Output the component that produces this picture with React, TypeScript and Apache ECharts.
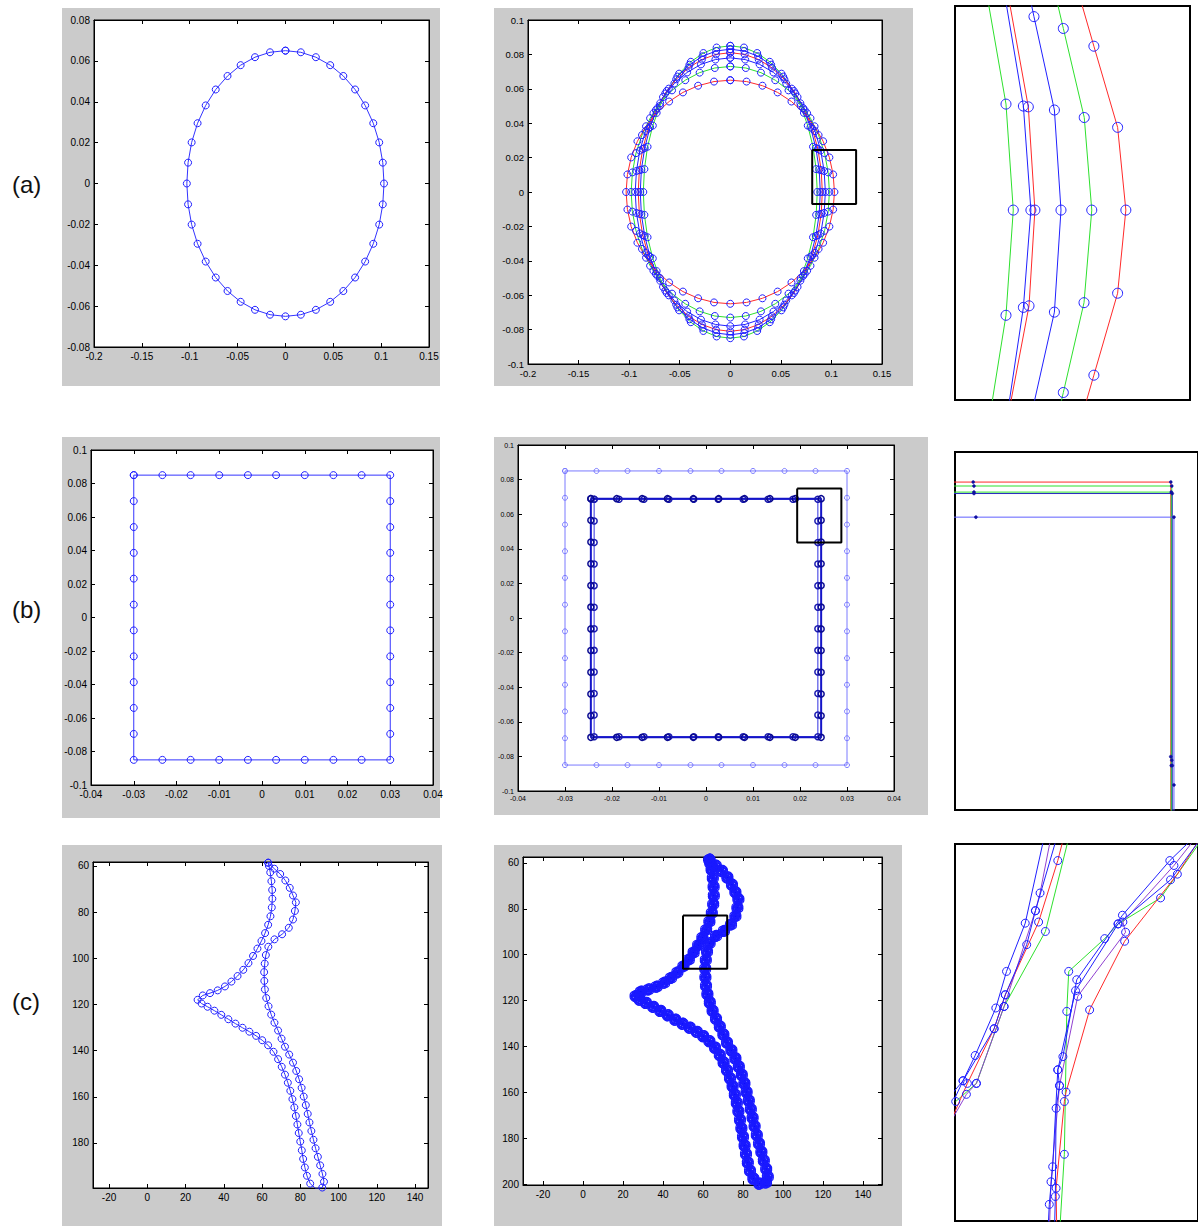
import React, { useEffect, useRef } from "react";
import * as echarts from "echarts";

// ---------- (a) ellipses: 40 points each ----------
const E1_X = [0,.0161,.0318,.0468,.0605,.0728,.0833,.0918,.098,.1017,.103,.1017,.098,.0918,.0833,.0728,.0605,.0468,.0318,.0161,0,-.0161,-.0318,-.0468,-.0605,-.0728,-.0833,-.0918,-.098,-.1017,-.103,-.1017,-.098,-.0918,-.0833,-.0728,-.0605,-.0468,-.0318,-.0161];
const E1_Y = [.065,.0642,.0618,.0579,.0526,.046,.0382,.0295,.0201,.0102,0,-.0102,-.0201,-.0295,-.0382,-.046,-.0526,-.0579,-.0618,-.0642,-.065,-.0642,-.0618,-.0579,-.0526,-.046,-.0382,-.0295,-.0201,-.0102,0,.0102,.0201,.0295,.0382,.046,.0526,.0579,.0618,.0642];
const E2_X = [0,.0153,.0303,.0445,.0576,.0693,.0793,.0873,.0932,.0968,.098,.0968,.0932,.0873,.0793,.0693,.0576,.0445,.0303,.0153,0,-.0153,-.0303,-.0445,-.0576,-.0693,-.0793,-.0873,-.0932,-.0968,-.098,-.0968,-.0932,-.0873,-.0793,-.0693,-.0576,-.0445,-.0303,-.0153];
const E2_Y = [.073,.0721,.0694,.065,.0591,.0516,.0429,.0331,.0226,.0114,0,-.0114,-.0226,-.0331,-.0429,-.0516,-.0591,-.065,-.0694,-.0721,-.073,-.0721,-.0694,-.065,-.0591,-.0516,-.0429,-.0331,-.0226,-.0114,0,.0114,.0226,.0331,.0429,.0516,.0591,.065,.0694,.0721];
const E3_X = [0,.0147,.029,.0427,.0553,.0665,.076,.0838,.0894,.0928,.094,.0928,.0894,.0838,.076,.0665,.0553,.0427,.029,.0147,0,-.0147,-.029,-.0427,-.0553,-.0665,-.076,-.0838,-.0894,-.0928,-.094,-.0928,-.0894,-.0838,-.076,-.0665,-.0553,-.0427,-.029,-.0147];
const E3_Y = [.078,.077,.0742,.0695,.0631,.0552,.0458,.0354,.0241,.0122,0,-.0122,-.0241,-.0354,-.0458,-.0552,-.0631,-.0695,-.0742,-.077,-.078,-.077,-.0742,-.0695,-.0631,-.0552,-.0458,-.0354,-.0241,-.0122,0,.0122,.0241,.0354,.0458,.0552,.0631,.0695,.0742,.077];
const E4_X = [0,.0142,.0281,.0413,.0535,.0643,.0736,.0811,.0866,.0899,.091,.0899,.0866,.0811,.0736,.0643,.0535,.0413,.0281,.0142,0,-.0142,-.0281,-.0413,-.0535,-.0643,-.0736,-.0811,-.0866,-.0899,-.091,-.0899,-.0866,-.0811,-.0736,-.0643,-.0535,-.0413,-.0281,-.0142];
const E4_Y = [.081,.08,.077,.0722,.0655,.0573,.0476,.0368,.025,.0127,0,-.0127,-.025,-.0368,-.0476,-.0573,-.0655,-.0722,-.077,-.08,-.081,-.08,-.077,-.0722,-.0655,-.0573,-.0476,-.0368,-.025,-.0127,0,.0127,.025,.0368,.0476,.0573,.0655,.0722,.077,.08];
const E5_X = [0,.0139,.0275,.0404,.0523,.0629,.072,.0793,.0846,.0879,.089,.0879,.0846,.0793,.072,.0629,.0523,.0404,.0275,.0139,0,-.0139,-.0275,-.0404,-.0523,-.0629,-.072,-.0793,-.0846,-.0879,-.089,-.0879,-.0846,-.0793,-.072,-.0629,-.0523,-.0404,-.0275,-.0139];
const E5_Y = [.083,.082,.0789,.074,.0671,.0587,.0488,.0377,.0256,.013,0,-.013,-.0256,-.0377,-.0488,-.0587,-.0671,-.074,-.0789,-.082,-.083,-.082,-.0789,-.074,-.0671,-.0587,-.0488,-.0377,-.0256,-.013,0,.013,.0256,.0377,.0488,.0587,.0671,.074,.0789,.082];
const E6_X = [0,.0135,.0266,.039,.0506,.0608,.0696,.0766,.0818,.0849,.086,.0849,.0818,.0766,.0696,.0608,.0506,.039,.0266,.0135,0,-.0135,-.0266,-.039,-.0506,-.0608,-.0696,-.0766,-.0818,-.0849,-.086,-.0849,-.0818,-.0766,-.0696,-.0608,-.0506,-.039,-.0266,-.0135];
const E6_Y = [.085,.084,.0808,.0757,.0688,.0601,.05,.0386,.0263,.0133,0,-.0133,-.0263,-.0386,-.05,-.0601,-.0688,-.0757,-.0808,-.084,-.085,-.084,-.0808,-.0757,-.0688,-.0601,-.05,-.0386,-.0263,-.0133,0,.0133,.0263,.0386,.05,.0601,.0688,.0757,.0808,.084];
const A2_BOX = [[0.081, 0.0244], [0.1244, 0.0244], [0.1244, -0.007], [0.081, -0.007], [0.081, 0.0244]];

// ---------- (b) rectangles: top-row x values and side y values ----------
const R0_TOPX = [-.03,-.0233,-.0167,-.01,-.0033,.0033,.01,.0167,.0233,.03];
const R0_SIDEY = [.085,.0695,.054,.0386,.0232,.0077,-.0077,-.0232,-.0386,-.054,-.0695,-.085];
const RA_TOPX = [-.0245,-.019,-.0136,-.0082,-.0027,.0027,.0082,.0136,.019,.0245];
const RA_SIDEY = [.069,.0565,.0439,.0314,.0188,.0063,-.0063,-.0188,-.0314,-.0439,-.0565,-.069];
const RB_TOPX = [-.0238,-.0185,-.0132,-.0079,-.0026,.0026,.0079,.0132,.0185,.0238];
const RB_SIDEY = [.0686,.0561,.0436,.0312,.0187,.0062,-.0062,-.0187,-.0312,-.0436,-.0561,-.0686];
const B2_BOX = [[0.0194, 0.0748], [0.0288, 0.0748], [0.0288, 0.0436], [0.0194, 0.0436], [0.0194, 0.0748]];

// ---------- (c) contour ----------
const C_X = [63.2,66.4,69.5,72.2,74.5,76.2,77.7,77.2,76.2,74,70.5,66.5,
  63.3,62,61.4,61.1,61.2,61.5,62.2,63.4,64.8,66.5,68.4,70.2,72,74.2,76.2,77.9,79.4,80.7,81.8,82.9,83.9,84.8,85.8,86.9,88,89.2,90.4,91.6,92.4,91.5,88.2,
  85.2,83.5,82.4,81.5,80.8,80,79.2,78.5,77.7,76.9,75.9,74.8,73.5,72,70.3,68.4,66,63.2,60.1,56.9,53.4,49.8,46.1,42.4,38.7,35.1,31.5,28.4,26.3,29,32.8,36.8,40.6,44,47.2,50.2,52.9,55.3,57.6,59.7,61.6,63.2,64.4,65.1,65.4,65.3,64.9,64.3,63.6];
const C_Y = [58.6,61.2,63.5,66.3,69.5,72.8,75.8,79.5,83.2,86.8,89.6,91.8,
  95,98.6,102.3,106,109.8,113.5,117.2,120.8,124.4,127.9,131.3,134.8,138.3,141.7,145.2,148.8,152.4,156.1,159.9,163.6,167.4,171.1,174.8,178.6,182.3,186,189.7,193.4,196.8,199.3,199.8,
  197.6,194.2,190.6,186.9,183.2,179.4,175.7,172,168.3,164.6,161,157.4,153.9,150.4,147,143.7,140.5,137.7,135.5,133.6,131.8,130.1,128.3,126.4,124.5,122.7,121,119.6,118,116.1,115.1,113.9,112.2,110.1,107.7,105,102.1,99,95.8,92.5,89.1,85.5,81.8,78,74.2,70.4,66.6,62.8,60];
const C2_BOX = [[50, 82.9], [72.1, 82.9], [72.1, 106.1], [50, 106.1], [50, 82.9]];

// ---------- tick labels ----------
const C_X_TICKS = [-20, 0, 20, 40, 60, 80, 100, 120, 140];
const C1_Y_TICKS = [60, 80, 100, 120, 140, 160, 180];
const C2_Y_TICKS = [60, 80, 100, 120, 140, 160, 180, 200];

// ---------- zoom panels (0..100 panel units) ----------
const ZA_G1 = [[13.9,101.8],[21.7,75.1],[24.8,48.2],[21.7,21.5],[14.5,-5.3]];
const ZA_B1 = [[21.6,101.3],[29.1,74.6],[32.3,48.2],[29.1,23.5],[22,-4.8]];
const ZA_R1 = [[23,101.5],[31.2,74.4],[34,48.2],[31.5,23.9],[22.3,-5]];
const ZA_B2 = [[25,121.8],[33.6,97.3],[42.3,73.6],[45.1,48.2],[42.3,22.3],[33.5,-1.1]];
const ZA_G2 = [[37.2,117],[46.1,94.3],[55,71.7],[58.2,48.2],[54.9,24.7],[46.1,1.9],[37.2,-21.2]];
const ZA_R2 = [[49.1,110.5],[59.1,89.8],[69.2,69.2],[72.7,48.2],[69.2,27.1],[59.1,6.3],[49.1,-14.3]];

const ZB_R = [[-5,91.6],[7.5,91.6],[88.8,91.6],[88.8,14.9],[88.8,-10]];
const ZB_G = [[-5,90.5],[7.8,90.5],[89.2,90.5],[89.2,13.9],[89.2,-10]];
const ZB_G2 = [[-5,88.8],[7.8,88.8],[89.0,88.8],[89.0,12.4],[89.0,-10]];
const ZB_B = [[-5,88.4],[7.8,88.4],[89.4,88.4],[89.4,12.4],[89.4,-10]];
const ZB_B2 = [[-5,81.8],[8.6,81.8],[90.1,81.8],[90.1,7],[90.1,-10]];

const ZC_LB = [[37.5,104.2],[28.9,79.0],[21.2,66.2],[16.8,56.5],[8.3,43.9],[3.3,37.2],[-3.9,27.3]];
const ZC_LP = [[40.2,104.2],[35.0,87.0],[33.1,82.3],[20.2,56.9],[8.8,36.5],[4.7,33.6],[-2.5,25.5]];
const ZC_LR = [[45.7,104.2],[42.3,95.6],[34.4,79.3],[20.7,60.0],[16.1,51.0],[5.1,36.5],[-1.8,26.4]];
const ZC_LG = [[47.8,104.2],[37.2,76.8],[20.2,56.9],[8.8,36.5],[0.3,31.7]];
const ZC_LB2 = [[43,104.2],[33.1,82.3],[29.5,73.3],[20.7,60],[16.1,51],[3.3,37.2],[-3.9,31.7]];
const ZC_RB = [[102.2,104.2],[88.4,95.6],[68.9,81.1],[50.1,64.0],[44.4,43.6],[42.3,40.1],[40.2,14.4],[38.8,4.4],[38.2,-3.7]];
const ZC_RP = [[102.2,104.2],[90.1,94.3],[69.1,79.3],[70.2,76.6],[50.5,59.6],[43,35.9],[39.5,10.4],[38.8,-3.7]];
const ZC_RR = [[103.6,104.2],[91.5,92],[69.8,74.2],[55.4,56],[45.7,34.2],[45,31.7],[41.6,8.7],[41.9,-3.7]];
const ZC_RG = [[104.9,104.2],[84.6,85.7],[67.1,78.8],[61.6,74.9],[46.8,66.2],[46,55.6],[45,17.7],[43,-3.7]];
const ZC_RB2 = [[104.3,104.2],[88.7,90.5],[67.1,78.8],[49.6,61.1],[42.3,40.1],[43,35.9],[41.6,29.9],[41.3,6.5],[40.9,-3.7]];

// ---------- helpers ----------
function closed(xs: number[], ys: number[]) {
  const pts = xs.map((x, i) => [x, ys[i]]);
  pts.push([xs[0], ys[0]]);
  return pts;
}
function rectPts(tx: number[], sy: number[]) {
  const pts: number[][] = [];
  const n = tx.length, m = sy.length;
  for (let i = 0; i < n; i++) pts.push([tx[i], sy[0]]);
  for (let j = 1; j < m; j++) pts.push([tx[n - 1], sy[j]]);
  for (let i = n - 2; i >= 0; i--) pts.push([tx[i], sy[m - 1]]);
  for (let j = m - 2; j >= 0; j--) pts.push([tx[0], sy[j]]);
  return pts;
}

const FONT = "'Liberation Sans', Arial, Helvetica, sans-serif";
const BLUE = "#2020ff";
const RED = "#ff2a2a";
const GREEN = "#2ee02e";
const PURPLE = "#9040d0";

const PANELS = [
  { grid: { left: 94, top: 20, width: 335, height: 327 }, x: { min: -0.2, max: 0.15, interval: 0.05 }, y: { min: -0.08, max: 0.08, interval: 0.02 }, fs: 10 },
  { grid: { left: 528, top: 20, width: 354, height: 344 }, x: { min: -0.2, max: 0.15, interval: 0.05 }, y: { min: -0.1, max: 0.1, interval: 0.02 }, fs: 9.5 },
  { grid: { left: 91, top: 450, width: 342, height: 335 }, x: { min: -0.04, max: 0.04, interval: 0.01 }, y: { min: -0.1, max: 0.1, interval: 0.02 }, fs: 10 },
  { grid: { left: 518, top: 445, width: 376, height: 346 }, x: { min: -0.04, max: 0.04, interval: 0.01 }, y: { min: -0.1, max: 0.1, interval: 0.02 }, fs: 7 },
  { grid: { left: 93, top: 862, width: 335, height: 326 }, x: { min: -28.4, max: 146.8, ticks: C_X_TICKS }, y: { min: 58.3, max: 199.5, ticks: C1_Y_TICKS, inverse: true }, fs: 10 },
  { grid: { left: 523, top: 857, width: 359, height: 328 }, x: { min: -30, max: 149.5, ticks: C_X_TICKS }, y: { min: 57.4, max: 200.4, ticks: C2_Y_TICKS, inverse: true }, fs: 10 },
];
const ZOOMS = [
  { left: 955, top: 6, width: 235, height: 394 },
  { left: 955, top: 452, width: 246, height: 358 },
  { left: 955, top: 844, width: 246, height: 377 },
];
const GRAYS = [
  [62, 8, 378, 378], [494, 8, 419, 378],
  [62, 437, 378, 381], [494, 437, 434, 378],
  [62, 845, 380, 381], [494, 845, 408, 381],
];

function mk(ai: number, data: any[], o: any = {}) {
  return {
    type: "line", xAxisIndex: ai, yAxisIndex: ai, data, silent: true, clip: true,
    symbol: o.sym ?? "circle", symbolSize: o.ss ?? 7, showSymbol: o.show ?? true, showAllSymbol: true,
    symbolOffset: o.off ?? [0, 0],
    lineStyle: { color: o.lc ?? BLUE, width: o.lw ?? 1 },
    itemStyle: { color: o.fill ?? "rgba(0,0,0,0)", borderColor: o.mc ?? BLUE, borderWidth: o.mw ?? 1 },
    emphasis: { disabled: true },
    z: o.z ?? 2,
  };
}

function buildOption() {
  const grid: any[] = [];
  const xAxis: any[] = [];
  const yAxis: any[] = [];
  PANELS.forEach((p, i) => {
    grid.push({ ...p.grid, show: true, backgroundColor: "#fff", borderColor: "#000", borderWidth: 1, containLabel: false });
    const tick = { show: true, inside: true, length: 4, lineStyle: { color: "#000", width: 1 } };
    const lab = { fontSize: p.fs, color: "#000", fontFamily: FONT };
    const base = (r: any, pos: string, showLab: boolean) => ({
      type: "value", gridIndex: i, position: pos, min: r.min, max: r.max, interval: r.interval,
      inverse: !!r.inverse,
      axisLine: { show: true, onZero: false, lineStyle: { color: "#000", width: 1 } },
      axisTick: r.ticks ? { ...tick, customValues: r.ticks } : tick,
      axisLabel: showLab
        ? (r.ticks ? { ...lab, margin: 4, customValues: r.ticks } : { ...lab, margin: 4 })
        : { show: false },
      splitLine: { show: false },
    });
    xAxis.push(base(p.x, "bottom", true));
    xAxis.push(base(p.x, "top", false));
    yAxis.push(base(p.y, "left", true));
    yAxis.push(base(p.y, "right", false));
  });
  ZOOMS.forEach((z, k) => {
    const gi = PANELS.length + k;
    grid.push({ ...z, show: true, backgroundColor: "#fff", borderColor: "#000", borderWidth: 2 });
    xAxis.push({ type: "value", gridIndex: gi, min: 0, max: 100, show: false });
    yAxis.push({ type: "value", gridIndex: gi, min: 0, max: 100, show: false });
  });
  // axis index: main panel p -> 2p ; zoom k -> 12 + k
  const series: any[] = [];
  // (a) left
  series.push(mk(0, closed(E1_X, E1_Y), { lc: "#3434ff", ss: 7 }));
  // (a) middle
  series.push(mk(2, closed(E6_X, E6_Y), { lc: GREEN, ss: 7 }));
  series.push(mk(2, closed(E5_X, E5_Y), { lc: BLUE, ss: 7 }));
  series.push(mk(2, closed(E4_X, E4_Y), { lc: RED, ss: 7 }));
  series.push(mk(2, closed(E3_X, E3_Y), { lc: BLUE, ss: 7 }));
  series.push(mk(2, closed(E2_X, E2_Y), { lc: GREEN, ss: 7 }));
  series.push(mk(2, closed(E1_X, E1_Y), { lc: RED, ss: 7 }));
  series.push(mk(2, A2_BOX, { lc: "#000", lw: 2, show: false, sym: "none", z: 5 }));
  // (b) left
  series.push(mk(4, rectPts(R0_TOPX, R0_SIDEY), { lc: "#3434ff", ss: 7 }));
  // (b) middle
  series.push(mk(6, rectPts(R0_TOPX, R0_SIDEY), { lc: "#7a7aff", mc: "#7a7aff", ss: 5 }));
  series.push(mk(6, rectPts(RB_TOPX, RB_SIDEY), { lc: "#3030e0", mc: "#1a1ab0", ss: 6, lw: 1, mw: 1.5 }));
  series.push(mk(6, rectPts(RA_TOPX, RA_SIDEY), { lc: "#1414c8", mc: "#0a0a90", ss: 6, lw: 2, mw: 1.5 }));
  series.push(mk(6, B2_BOX, { lc: "#000", lw: 2, show: false, sym: "none", z: 5 }));
  // (c) left
  const cont = closed(C_X, C_Y);
  series.push(mk(8, cont, { lc: "#3030ff", ss: 7 }));
  // (c) middle: overlapping registered contours drawn as a dense band
  series.push(mk(10, cont, { lc: "#1010ff", lw: 4, ss: 8, mw: 1.4, mc: "#1010ff" }));
  [[2, 1], [-2, -1], [1, -2], [-1, 2], [2, -1], [-2, 1], [0, 2], [0, -2]].forEach((off) => {
    series.push(mk(10, cont, { lc: "#1010ff", lw: 1, ss: 7, mw: 1.2, mc: "#1a1aff", off }));
  });
  series.push(mk(10, C2_BOX, { lc: "#000", lw: 2, show: false, sym: "none", z: 5 }));
  // zoom (a)
  series.push(mk(12, ZA_G1, { lc: GREEN, ss: 10 }));
  series.push(mk(12, ZA_G2, { lc: GREEN, ss: 10 }));
  series.push(mk(12, ZA_R1, { lc: RED, ss: 10 }));
  series.push(mk(12, ZA_R2, { lc: RED, ss: 10 }));
  series.push(mk(12, ZA_B1, { lc: BLUE, ss: 10 }));
  series.push(mk(12, ZA_B2, { lc: BLUE, ss: 10 }));
  // zoom (b)
  const dot = { ss: 3, fill: "#1010a0", mc: "#1010a0", mw: 0.5 };
  series.push(mk(13, ZB_R, { ...dot, lc: RED }));
  series.push(mk(13, ZB_G, { ...dot, lc: GREEN }));
  series.push(mk(13, ZB_G2, { ...dot, lc: GREEN }));
  series.push(mk(13, ZB_B, { ...dot, lc: "#2a2ac0" }));
  series.push(mk(13, ZB_B2, { ...dot, lc: "#6060ff" }));
  // zoom (c)
  const zc = { ss: 8 };
  series.push(mk(14, ZC_LG, { ...zc, lc: GREEN }));
  series.push(mk(14, ZC_LR, { ...zc, lc: RED }));
  series.push(mk(14, ZC_LP, { ...zc, lc: PURPLE }));
  series.push(mk(14, ZC_LB2, { ...zc, lc: BLUE }));
  series.push(mk(14, ZC_LB, { ...zc, lc: BLUE }));
  series.push(mk(14, ZC_RG, { ...zc, lc: GREEN }));
  series.push(mk(14, ZC_RR, { ...zc, lc: RED }));
  series.push(mk(14, ZC_RP, { ...zc, lc: PURPLE }));
  series.push(mk(14, ZC_RB2, { ...zc, lc: BLUE }));
  series.push(mk(14, ZC_RB, { ...zc, lc: BLUE }));

  const graphic: any[] = GRAYS.map((g) => ({
    type: "rect", z: -10, silent: true,
    shape: { x: g[0], y: g[1], width: g[2], height: g[3] },
    style: { fill: "#cbcbcb" },
  }));
  [["(a)", 184], ["(b)", 609], ["(c)", 1001]].forEach(([t, y]) => {
    graphic.push({
      type: "text", x: 12, y: y as number, z: 10, silent: true,
      style: { text: t as string, font: "24px 'Liberation Sans', Arial, sans-serif", fill: "#111", textVerticalAlign: "middle", verticalAlign: "middle" },
    });
  });

  return {
    animation: false,
    backgroundColor: "#fff",
    textStyle: { fontFamily: FONT },
    grid, xAxis, yAxis, series, graphic,
  };
}

export default function App() {
  const ref = useRef<HTMLDivElement>(null);
  useEffect(() => {
    if (!ref.current) return;
    const chart = echarts.init(ref.current, null, { renderer: "svg", width: 1198, height: 1226 });
    chart.setOption(buildOption() as any);
    return () => chart.dispose();
  }, []);
  return (
    <div
      ref={ref}
      style={{ position: "absolute", left: 0, top: 0, width: 1198, height: 1226, background: "#fff" }}
    />
  );
}
